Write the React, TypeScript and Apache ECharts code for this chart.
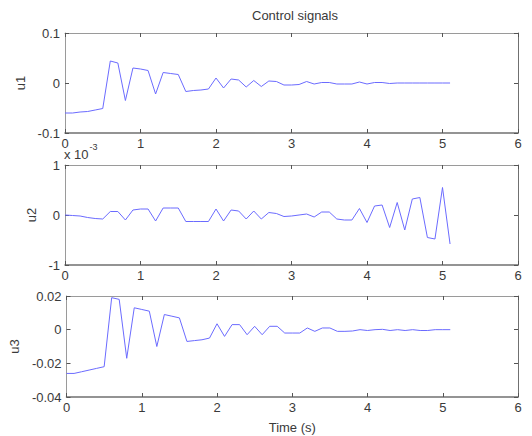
import React, { useEffect, useRef } from "react";
import * as echarts from "echarts";

const time = [
  0, 0.1, 0.2, 0.3, 0.4, 0.5, 0.6, 0.7, 0.8, 0.9,
  1.0, 1.1, 1.2, 1.3, 1.4, 1.5, 1.6, 1.7, 1.8, 1.9,
  2.0, 2.1, 2.2, 2.3, 2.4, 2.5, 2.6, 2.7, 2.8, 2.9,
  3.0, 3.1, 3.2, 3.3, 3.4, 3.5, 3.6, 3.7, 3.8, 3.9,
  4.0, 4.1, 4.2, 4.3, 4.4, 4.5, 4.6, 4.7, 4.8, 4.9,
  5.0, 5.1,
];

const u1 = [
  -0.06, -0.06, -0.058, -0.057, -0.054, -0.051, 0.044, 0.04, -0.035, 0.03,
  0.028, 0.025, -0.022, 0.021, 0.019, 0.017, -0.017, -0.015, -0.014, -0.012,
  0.01, -0.01, 0.008, 0.006, -0.008, 0.005, -0.007, 0.004, 0.003, -0.004,
  -0.004, -0.003, 0.003, -0.002, 0.001, 0.001, -0.002, -0.002, -0.002, 0.002,
  -0.002, 0.001, 0.001, -0.001, 0, 0, 0, 0, 0, 0,
  0, 0,
];

// u2 in units of 1e-3 (axis shows "x 10^-3")
const u2 = [
  0, -0.01, -0.02, -0.05, -0.07, -0.08, 0.07, 0.07, -0.1, 0.1,
  0.12, 0.12, -0.12, 0.14, 0.14, 0.14, -0.13, -0.13, -0.13, -0.13,
  0.12, -0.12, 0.1, 0.08, -0.08, 0.08, -0.08, 0.05, 0.03, -0.03,
  -0.02, 0, 0.02, -0.04, 0.06, 0.06, -0.08, -0.1, -0.1, 0.13,
  -0.15, 0.18, 0.2, -0.25, 0.25, -0.3, 0.32, 0.35, -0.45, -0.48,
  0.55, -0.58,
];

const u3 = [
  -0.026, -0.026, -0.025, -0.024, -0.023, -0.022, 0.019, 0.018, -0.017, 0.013,
  0.012, 0.011, -0.01, 0.009, 0.008, 0.007, -0.007, -0.0065, -0.006, -0.005,
  0.0035, -0.004, 0.003, 0.003, -0.003, 0.002, -0.003, 0.002, 0.002, -0.002,
  -0.002, -0.002, 0.001, -0.001, 0.001, 0.001, -0.001, -0.001, -0.0008, 0,
  -0.0005, 0, 0.0002, -0.0005, 0, -0.0005, 0, -0.0005, -0.0005, 0,
  0, 0,
];

const panelNames = ["u1", "u2", "u3"];
const yMins = [-0.1, -1, -0.04];
const yMaxs = [0.1, 1, 0.02];
const yIntervals = [0.1, 1, 0.02];
const xTickMax = 6;

const FONT = "Liberation Sans, Arial, sans-serif";
const LINE = "#6b6bff";
const FRAME = "#9a9a9a";
const FRAME_DARK = "#707070";
const TEXT = "#3a3a3a";

function fmtY(v: number, idx: number) {
  const r = Math.round(v / yIntervals[idx]) * yIntervals[idx];
  const s = parseFloat(r.toFixed(4));
  return s === 0 ? "0" : String(s);
}

export default function App() {
  const ref = useRef<HTMLDivElement>(null);
  useEffect(() => {
    if (!ref.current) return;
    const chart = echarts.init(ref.current, undefined, { renderer: "svg" });
    const tops = [33, 165, 296];
    const heights = [100, 100, 101];
    const nameGaps = [36, 25, 43];
    const seriesData = [u1, u2, u3];

    const tick = { show: true, inside: true, length: 4, lineStyle: { color: "#555" } };
    const grids: any[] = [];
    const xAxes: any[] = [];
    const yAxes: any[] = [];
    const series: any[] = [];
    for (let i = 0; i < 3; i++) {
      grids.push({
        left: 65,
        right: 14,
        top: tops[i],
        height: heights[i],
      });
      xAxes.push({
        type: "value",
        gridIndex: i,
        min: 0,
        max: xTickMax,
        interval: 1,
        position: "bottom",
        axisLine: { show: true, onZero: false, lineStyle: { color: FRAME_DARK, width: 1.5 } },
        axisTick: tick,
        axisLabel: { color: TEXT, fontFamily: FONT, fontSize: 13, margin: 4 },
        splitLine: { show: false },
        name: i === 2 ? "Time (s)" : "",
        nameLocation: "middle",
        nameGap: 24,
        nameTextStyle: { color: TEXT, fontFamily: FONT, fontSize: 13 },
      });
      xAxes.push({
        type: "value",
        gridIndex: i,
        min: 0,
        max: xTickMax,
        interval: 1,
        position: "top",
        axisLine: { show: true, onZero: false, lineStyle: { color: FRAME } },
        axisTick: tick,
        axisLabel: { show: false },
        splitLine: { show: false },
      });
      yAxes.push({
        type: "value",
        gridIndex: i,
        min: yMins[i],
        max: yMaxs[i],
        interval: yIntervals[i],
        position: "left",
        axisLine: { show: true, onZero: false, lineStyle: { color: FRAME } },
        axisTick: tick,
        axisLabel: {
          color: TEXT,
          fontFamily: FONT,
          fontSize: 13,
          margin: 5,
          formatter: (v: number) => fmtY(v, i),
        },
        splitLine: { show: false },
        name: panelNames[i],
        nameLocation: "middle",
        nameGap: nameGaps[i],
        nameRotate: 90,
        nameTextStyle: { color: TEXT, fontFamily: FONT, fontSize: 13 },
      });
      yAxes.push({
        type: "value",
        gridIndex: i,
        min: yMins[i],
        max: yMaxs[i],
        interval: yIntervals[i],
        position: "right",
        axisLine: { show: true, onZero: false, lineStyle: { color: FRAME_DARK } },
        axisTick: tick,
        axisLabel: { show: false },
        splitLine: { show: false },
      });
      series.push({
        type: "line",
        xAxisIndex: i * 2,
        yAxisIndex: i * 2,
        data: time.map((t, k) => [t, seriesData[i][k]]),
        showSymbol: false,
        symbol: "none",
        lineStyle: { color: LINE, width: 1 },
        silent: true,
      });
    }

    chart.setOption({
      animation: false,
      backgroundColor: "#fff",
      title: {
        text: "Control signals",
        left: 252,
        top: 9,
        padding: 0,
        textStyle: { color: TEXT, fontFamily: FONT, fontSize: 13, fontWeight: "normal" },
      },
      grid: grids,
      xAxis: xAxes,
      yAxis: yAxes,
      series,
      graphic: [
        {
          type: "text",
          left: 64,
          top: 142,
          style: {
            text: "{a|x 10}{b|-3}",
            rich: {
              a: { fontSize: 13, fontFamily: FONT, fill: TEXT, verticalAlign: "bottom" },
              b: { fontSize: 9, fontFamily: FONT, fill: TEXT, verticalAlign: "top", padding: [0, 0, 10, 1] },
            },
          },
        },
      ],
    });
    return () => chart.dispose();
  }, []);
  return (
    <div
      ref={ref}
      style={{ position: "absolute", left: 0, top: 0, width: 532, height: 436 }}
    />
  );
}
